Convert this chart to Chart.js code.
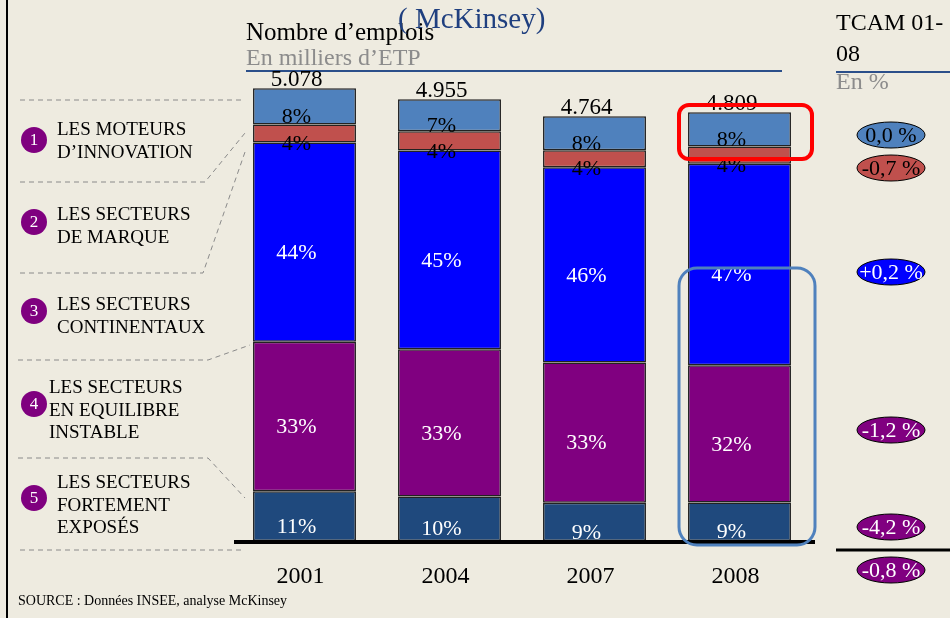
<!DOCTYPE html>
<html>
<head>
<meta charset="utf-8">
<script src="https://cdn.jsdelivr.net/npm/chart.js@4/dist/chart.umd.min.js"></script>
<style>
  html, body { margin: 0; padding: 0; background: #EEEBE0; }
  canvas { display: block; }
</style>
</head>
<body>
<canvas id="chart" width="950" height="618"></canvas>
<script>
// Data (milliers d'ETP), bottom segment first
const years = ['2001', '2004', '2007', '2008'];
const totalLabels = ['5.078', '4.955', '4.764', '4.809'];
const exposes = [559, 500, 429, 433];
const equilibre = [1676, 1650, 1572, 1539];
const continentaux = [2234, 2230, 2191, 2260];
const marque = [203, 215, 191, 192];
const innovation = [406, 360, 381, 385];

const pctExposes = ['11%', '10%', '9%', '9%'];
const pctEquilibre = ['33%', '33%', '33%', '32%'];
const pctContinentaux = ['44%', '45%', '46%', '47%'];
const pctMarque = ['4%', '4%', '4%', '4%'];
const pctInnovation = ['8%', '7%', '8%', '8%'];

// TCAM 01-08, top to bottom
const tcamLabels = ['0,0 %', '-0,7 %', '+0,2 %', '-1,2 %', '-4,2 %'];
const tcamTotal = '-0,8 %';

const SERIF = '"Liberation Serif", "DejaVu Serif", serif';

const segments = [
  { data: exposes, pct: pctExposes, color: '#1F497D', text: '#ffffff' },
  { data: equilibre, pct: pctEquilibre, color: '#800080', text: '#ffffff' },
  { data: continentaux, pct: pctContinentaux, color: '#0000FF', text: '#ffffff' },
  { data: marque, pct: pctMarque, color: '#C0504D', text: '#000000' },
  { data: innovation, pct: pctInnovation, color: '#4F81BD', text: '#000000' }
];

function polyline(ctx, pts) {
  ctx.beginPath();
  ctx.moveTo(pts[0][0], pts[0][1]);
  for (let i = 1; i < pts.length; i++) ctx.lineTo(pts[i][0], pts[i][1]);
  ctx.stroke();
}

function roundRect(ctx, x, y, w, h, r) {
  ctx.beginPath();
  ctx.moveTo(x + r, y);
  ctx.arcTo(x + w, y, x + w, y + h, r);
  ctx.arcTo(x + w, y + h, x, y + h, r);
  ctx.arcTo(x, y + h, x, y, r);
  ctx.arcTo(x, y, x + w, y, r);
  ctx.closePath();
  ctx.stroke();
}

const decor = {
  id: 'decor',
  beforeDraw(chart) {
    const ctx = chart.ctx;
    ctx.save();
    ctx.fillStyle = '#EEEBE0';
    ctx.fillRect(0, 0, chart.width, chart.height);

    // left frame line
    ctx.strokeStyle = '#000';
    ctx.lineWidth = 2;
    polyline(ctx, [[7, 0], [7, 618]]);

    // headers
    ctx.textBaseline = 'alphabetic';
    ctx.fillStyle = '#000';
    ctx.font = '25px ' + SERIF;
    ctx.fillText('Nombre d\u2019emplois', 246, 40);
    ctx.font = '24px ' + SERIF;
    ctx.fillText('TCAM 01-', 836, 30);
    ctx.fillText('08', 836, 61);
    ctx.fillStyle = '#1F3F7F';
    ctx.font = '29px ' + SERIF;
    ctx.fillText('( McKinsey)', 398, 28);
    ctx.fillStyle = '#8C8C8C';
    ctx.font = '24px ' + SERIF;
    ctx.fillText('En milliers d\u2019ETP', 246, 65);
    ctx.fillText('En %', 836, 89);

    ctx.strokeStyle = '#2B4F8A';
    ctx.lineWidth = 2;
    polyline(ctx, [[246, 71], [782, 71]]);
    polyline(ctx, [[836, 72], [950, 72]]);

    // left legend dashed separators
    ctx.strokeStyle = '#8a8a8a';
    ctx.lineWidth = 1;
    ctx.setLineDash([5, 4]);
    polyline(ctx, [[20, 100], [245, 100]]);
    polyline(ctx, [[20, 182], [205, 182], [245, 133]]);
    polyline(ctx, [[20, 273], [203, 273], [245, 152]]);
    polyline(ctx, [[18, 360], [208, 360], [250, 345]]);
    polyline(ctx, [[18, 458], [208, 458], [245, 498]]);
    polyline(ctx, [[20, 550], [245, 550]]);
    ctx.setLineDash([]);

    // numbered legend
    const items = [
      { n: '1', cy: 140, x: 57, lines: ['LES MOTEURS', 'D\u2019INNOVATION'], y0: 135 },
      { n: '2', cy: 222, x: 57, lines: ['LES SECTEURS', 'DE MARQUE'], y0: 220 },
      { n: '3', cy: 311, x: 57, lines: ['LES SECTEURS', 'CONTINENTAUX'], y0: 310 },
      { n: '4', cy: 404, x: 49, lines: ['LES SECTEURS', 'EN EQUILIBRE', 'INSTABLE'], y0: 393 },
      { n: '5', cy: 498, x: 57, lines: ['LES SECTEURS', 'FORTEMENT', 'EXPOS\u00c9S'], y0: 488 }
    ];
    items.forEach(it => {
      ctx.fillStyle = '#7F007F';
      ctx.beginPath();
      ctx.arc(34, it.cy, 13, 0, Math.PI * 2);
      ctx.fill();
      ctx.fillStyle = '#fff';
      ctx.font = '17px ' + SERIF;
      ctx.textAlign = 'center';
      ctx.textBaseline = 'middle';
      ctx.fillText(it.n, 34, it.cy + 1);
      ctx.textAlign = 'left';
      ctx.textBaseline = 'alphabetic';
      ctx.fillStyle = '#000';
      ctx.font = '19px ' + SERIF;
      it.lines.forEach((l, i) => ctx.fillText(l, it.x, it.y0 + i * 22.5));
    });

    ctx.font = '14px ' + SERIF;
    ctx.fillText('SOURCE : Donn\u00e9es INSEE, analyse McKinsey', 18, 605);
    ctx.restore();
  },
  afterDatasetsDraw(chart) {
    const ctx = chart.ctx;
    const area = chart.chartArea;
    const yScale = chart.scales.y;
    ctx.save();

    // baseline
    const base = yScale.getPixelForValue(0);
    ctx.strokeStyle = '#000';
    ctx.lineWidth = 4;
    polyline(ctx, [[area.left + 2, base + 1], [area.right + 3, base + 1]]);

    // segment labels
    ctx.textAlign = 'center';
    ctx.textBaseline = 'middle';
    ctx.font = '22px ' + SERIF;
    segments.forEach((s, di) => {
      const meta = chart.getDatasetMeta(di);
      meta.data.forEach((el, i) => {
        ctx.fillStyle = s.text;
        ctx.fillText(s.pct[i], el.x - 8, (el.y + el.base) / 2 + 11);
      });
    });

    // totals above bars
    const topMeta = chart.getDatasetMeta(segments.length - 1);
    ctx.fillStyle = '#000';
    ctx.font = '23px ' + SERIF;
    topMeta.data.forEach((el, i) => {
      ctx.fillText(totalLabels[i], el.x - 8, el.y - 8);
    });

    // years
    ctx.font = '24px ' + SERIF;
    const xScale = chart.scales.x;
    years.forEach((y, i) => {
      ctx.fillText(y, xScale.getPixelForValue(i) - 4, 577);
    });

    // highlight boxes
    ctx.strokeStyle = '#FF0000';
    ctx.lineWidth = 4;
    roundRect(ctx, 679, 105, 133, 54, 10);
    ctx.strokeStyle = '#4F81BD';
    ctx.lineWidth = 3;
    roundRect(ctx, 679, 268, 136, 277, 18);

    // TCAM ellipses
    const ellY = [135, 168, 272, 430, 527];
    const ellFill = ['#4F81BD', '#C0504D', '#0000FF', '#800080', '#800080'];
    const ellText = ['#000', '#000', '#fff', '#fff', '#fff'];
    ctx.font = '22px ' + SERIF;
    const drawEll = (y, fill, txtColor, txt) => {
      ctx.fillStyle = fill;
      ctx.strokeStyle = '#000';
      ctx.lineWidth = 1;
      ctx.beginPath();
      ctx.ellipse(891, y, 34, 13, 0, 0, Math.PI * 2);
      ctx.fill();
      ctx.stroke();
      ctx.fillStyle = txtColor;
      ctx.fillText(txt, 891, y + 1);
    };
    tcamLabels.forEach((t, i) => drawEll(ellY[i], ellFill[i], ellText[i], t));
    ctx.strokeStyle = '#000';
    ctx.lineWidth = 3;
    polyline(ctx, [[836, 550], [950, 550]]);
    drawEll(570, '#800080', '#fff', tcamTotal);

    ctx.restore();
  }
};

new Chart(document.getElementById('chart'), {
  type: 'bar',
  data: {
    labels: years,
    datasets: segments.map(s => ({
      data: s.data,
      backgroundColor: s.color,
      borderColor: '#222222',
      borderWidth: 1.5,
      borderSkipped: false,
      barPercentage: 0.71,
      categoryPercentage: 1
    }))
  },
  options: {
    responsive: false,
    animation: false,
    devicePixelRatio: 1,
    layout: { padding: { left: 232, right: 138, top: 6, bottom: 77 } },
    scales: {
      x: { stacked: true, display: false },
      y: { stacked: true, display: false, min: 0, max: 6000 }
    },
    plugins: {
      legend: { display: false },
      tooltip: { enabled: false }
    }
  },
  plugins: [decor]
});
</script>
</body>
</html>
